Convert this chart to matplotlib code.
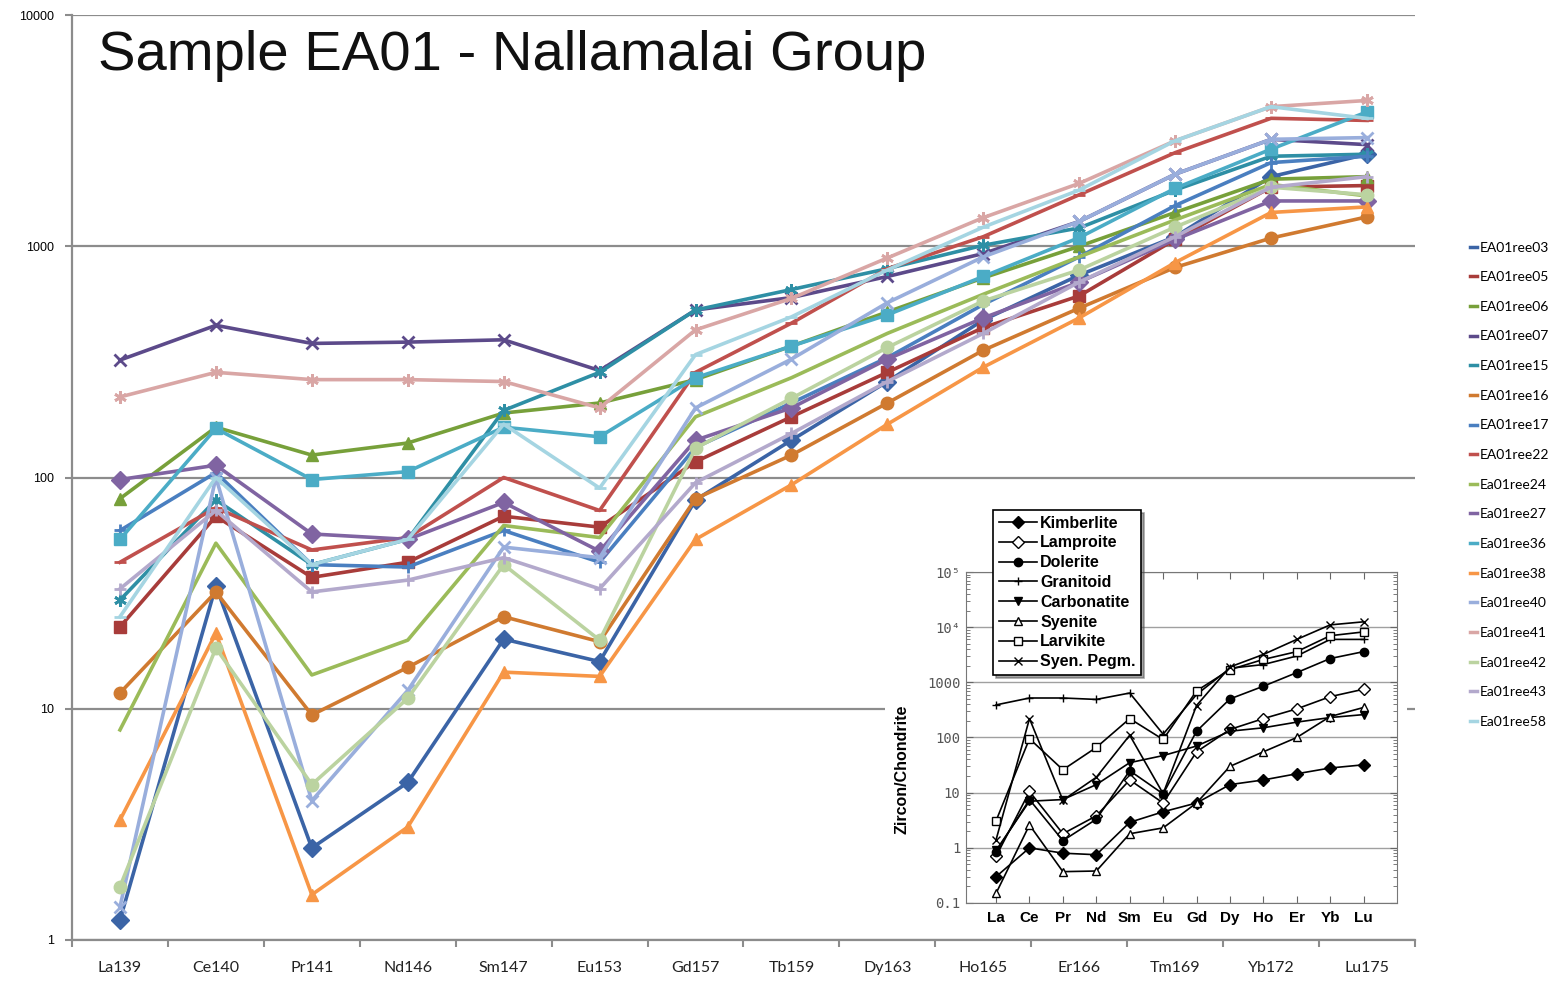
import matplotlib.pyplot as plt
import numpy as np
from matplotlib.patches import Rectangle
from matplotlib.lines import Line2D

# elementos del grafico principal
elementos = ['La139', 'Ce140', 'Pr141', 'Nd146', 'Sm147', 'Eu153', 'Gd157',
             'Tb159', 'Dy163', 'Ho165', 'Er166', 'Tm169', 'Yb172', 'Lu175']

nombres = ['EA01ree03', 'EA01ree05', 'EA01ree06', 'EA01ree07', 'EA01ree15', 'EA01ree16',
           'EA01ree17', 'EA01ree22', 'Ea01ree24', 'Ea01ree27', 'Ea01ree36', 'Ea01ree38',
           'Ea01ree40', 'Ea01ree41', 'Ea01ree42', 'Ea01ree43', 'Ea01ree58']

ree03 = [1.22, 34, 2.5, 4.8, 20, 16, 80, 145, 260, 480, 750, 1100, 2000, 2500]
ree05 = [22.6, 68, 37, 43, 68, 61, 117, 183, 285, 445, 610, 1070, 1800, 1830]
ree06 = [81, 165, 125, 141, 190, 210, 265, 370, 520, 730, 1000, 1400, 1950, 2000]
ree07 = [322, 455, 380, 385, 394, 290, 530, 600, 740, 930, 1280, 2050, 2900, 2750]
ree15 = [29.5, 80, 42, 54, 195, 285, 530, 650, 800, 1010, 1200, 1750, 2450, 2500]
ree16 = [11.7, 32, 9.4, 15.1, 25, 19.5, 81, 125, 210, 355, 540, 810, 1085, 1340]
ree17 = [59, 105, 42, 41, 59, 43, 135, 210, 330, 560, 900, 1500, 2300, 2450]
ree22 = [43, 74, 48.6, 55, 100, 72, 285, 465, 800, 1100, 1670, 2540, 3575, 3500]
ree24 = [8.1, 52, 14, 19.8, 62, 55, 183, 270, 420, 620, 900, 1300, 1850, 1650]
ree27 = [98, 113, 57, 54, 78, 48, 145, 200, 325, 490, 700, 1070, 1570, 1570]
ree36 = [54, 163, 98, 106, 165, 150, 270, 370, 505, 740, 1090, 1780, 2630, 3810]
ree38 = [3.3, 21.2, 1.57, 3.08, 14.4, 13.8, 54, 93, 170, 300, 490, 850, 1400, 1480]
ree40 = [1.39, 100, 4.0, 12, 50, 45, 200, 325, 570, 900, 1280, 2050, 2900, 2950]
ree41 = [223, 285, 265, 265, 260, 200, 435, 595, 890, 1330, 1870, 2860, 4015, 4270]
ree42 = [1.7, 18.3, 4.7, 11.1, 42, 19.8, 134, 220, 365, 580, 790, 1210, 1800, 1670]
ree43 = [33, 72, 32, 36, 45, 33, 95, 155, 260, 420, 700, 1100, 1800, 2000]
ree58 = [25, 100, 42, 54, 170, 90, 340, 495, 790, 1210, 1750, 2860, 4015, 3570]

series = [ree03, ree05, ree06, ree07, ree15, ree16, ree17, ree22, ree24,
          ree27, ree36, ree38, ree40, ree41, ree42, ree43, ree58]

colores = ['#3B64A6', '#A83C3A', '#77A03A', '#5C4A8A', '#2E8FA5', '#D07A30',
           '#4A7FC0', '#C0504D', '#9BBB59', '#8064A2', '#4BACC6', '#F79646',
           '#99AEDC', '#D9A6A5', '#BBD3A0', '#B3A9CC', '#A5D5E2']
marcadores = ['D', 's', '^', 'x', (6, 2, 0), 'o', '+', '_', None,
              'D', 's', '^', 'x', (6, 2, 0), 'o', '+', '_']

# datos del recuadro (zircon/chondrite)
tierras = ['La', 'Ce', 'Pr', 'Nd', 'Sm', 'Eu', 'Gd', 'Dy', 'Ho', 'Er', 'Yb', 'Lu']
rocas = ['Kimberlite', 'Lamproite', 'Dolerite', 'Granitoid', 'Carbonatite',
         'Syenite', 'Larvikite', 'Syen. Pegm.']
kimberlita = [0.3, 1.0, 0.8, 0.75, 2.9, 4.5, 6.5, 14, 17, 22, 28, 32]
lamproita = [0.7, 10.5, 1.8, 3.8, 17, 6.5, 55, 140, 220, 330, 550, 750]
dolerita = [0.85, 7.5, 1.35, 3.3, 25, 9.5, 130, 500, 850, 1500, 2700, 3600]
granitoide = [390, 520, 520, 490, 640, 115, 600, 1800, 2100, 3000, 6000, 6000]
carbonatita = [0.9, 7, 7.5, 14, 35, 47, 70, 130, 150, 190, 230, 260]
sienita = [0.15, 2.6, 0.37, 0.38, 1.8, 2.3, 6.5, 30, 55, 100, 240, 350]
larvikita = [3.1, 95, 26, 66, 220, 92, 700, 1700, 2600, 3600, 7000, 8200]
pegmatita = [1.4, 220, 7.3, 19, 110, 9.6, 380, 1900, 3200, 6000, 11000, 12500]
datos_roca = [kimberlita, lamproita, dolerita, granitoide, carbonatita,
              sienita, larvikita, pegmatita]
marc_roca = ['D', 'D', 'o', '+', 'v', '^', 's', 'x']
relleno = ['black', 'white', 'black', 'black', 'black', 'white', 'white', 'black']

fig = plt.figure(figsize=(15.57, 9.81), dpi=100)
ax = fig.add_axes([72/1557, 1-940/981, (1415-72)/1557, (940-15)/981])

x = np.arange(len(elementos))
for i in range(len(series)):
    m = marcadores[i]
    mew = 2 if m in ('x', '+', '_') or isinstance(m, tuple) else 1
    ax.plot(x, series[i], color=colores[i], lw=2.6, marker=m, ms=9, mew=mew,
            mec=colores[i], label=nombres[i])

ax.set_yscale('log')
ax.set_ylim(1, 10000)
ax.set_xlim(-0.5, len(elementos)-0.5)
ax.set_yticks([1, 10, 100, 1000, 10000])
ax.set_yticklabels(['1', '10', '100', '1000', '10000'], fontsize=9, family='Liberation Sans')
ax.yaxis.set_minor_locator(plt.NullLocator())
ax.grid(axis='y', color='#8C8C8C', lw=1.6)
ax.set_axisbelow(True)
ax.set_xticks(x)
ax.set_xticklabels(elementos, fontsize=11.5, family='Lato', color='#222222')
ax.set_xticks(np.arange(-0.5, len(elementos)), minor=True)
ax.tick_params(axis='x', which='major', length=0, pad=15)
ax.tick_params(axis='x', which='minor', length=5, color='#8C8C8C', width=1.5)
ax.tick_params(axis='y', length=5, color='#8C8C8C', width=1.5, pad=8)
for s in ['top', 'right']:
    ax.spines[s].set_visible(False)
for s in ['left', 'bottom']:
    ax.spines[s].set_color('#8C8C8C')
    ax.spines[s].set_linewidth(1.6)

fig.text(98/1557, 1-56/981, 'Sample EA01 - Nallamalai Group', fontsize=40.5,
         family='Liberation Sans', va='center', ha='left', color='#111111')

# leyenda a la derecha
manejadores = [Line2D([0], [0], color=c, lw=2.5) for c in colores]
fig.legend(manejadores, nombres, loc='upper left', bbox_to_anchor=(1464/1557, 1-236/981),
           frameon=False, prop={'family': 'Lato', 'size': 10},
           handlelength=0.5, handletextpad=0.2, labelspacing=1.27, borderaxespad=0)

# fondo blanco del recuadro
fig.add_artist(Rectangle((885/1557, 1-935/981), (1407-885)/1557, (935-503)/981,
                         transform=fig.transFigure, facecolor='white', edgecolor='none', zorder=1))

ax2 = fig.add_axes([966/1557, 1-903/981, (1397-966)/1557, (903-572)/981], zorder=2)
xi = np.arange(len(tierras))
for i in range(len(rocas)):
    ax2.plot(xi, datos_roca[i], color='black', lw=1.2, marker=marc_roca[i], ms=6,
             mfc=relleno[i], mec='black', mew=1, label=rocas[i])
ax2.set_yscale('log')
ax2.set_ylim(0.1, 1e5)
ax2.set_xlim(-0.9, len(tierras))
ax2.set_yticks([0.1, 1, 10, 100, 1000, 1e4, 1e5])
ax2.set_yticklabels(['0.1', '1', '10', '100', '1000', '10⁴', '10⁵'],
                    family='DejaVu Sans Mono', fontsize=10, color='#555555')
ax2.set_xticks(xi)
ax2.set_xticklabels(tierras, fontsize=11, fontweight='bold', family='Liberation Sans')
ax2.tick_params(axis='x', direction='in', top=True, length=5, color='#666666', pad=6)
ax2.tick_params(axis='y', which='both', direction='in', right=True, color='#666666', pad=4)
ax2.tick_params(axis='y', which='major', length=5)
ax2.tick_params(axis='y', which='minor', length=3)
ax2.grid(axis='y', which='major', color='#A0A0A0', lw=1)
for s in ax2.spines.values():
    s.set_color('#777777')
ax2.set_ylabel('Zircon/Chondrite', fontsize=11.5, fontweight='bold', family='Liberation Sans')
ax2.yaxis.set_label_coords(-0.13, 0.405)

ley = ax2.legend(loc='upper left', bbox_to_anchor=(993/1557, 1-510/981),
                 bbox_transform=fig.transFigure, fancybox=False, shadow=True,
                 prop={'family': 'Liberation Sans', 'weight': 'bold', 'size': 11.5},
                 handlelength=2.4, handletextpad=0.2, labelspacing=0.3, borderaxespad=0,
                 framealpha=1, borderpad=0.35)
ley.get_frame().set_edgecolor('black')
ley.get_frame().set_linewidth(1.2)

plt.savefig('out.png', dpi=100)
